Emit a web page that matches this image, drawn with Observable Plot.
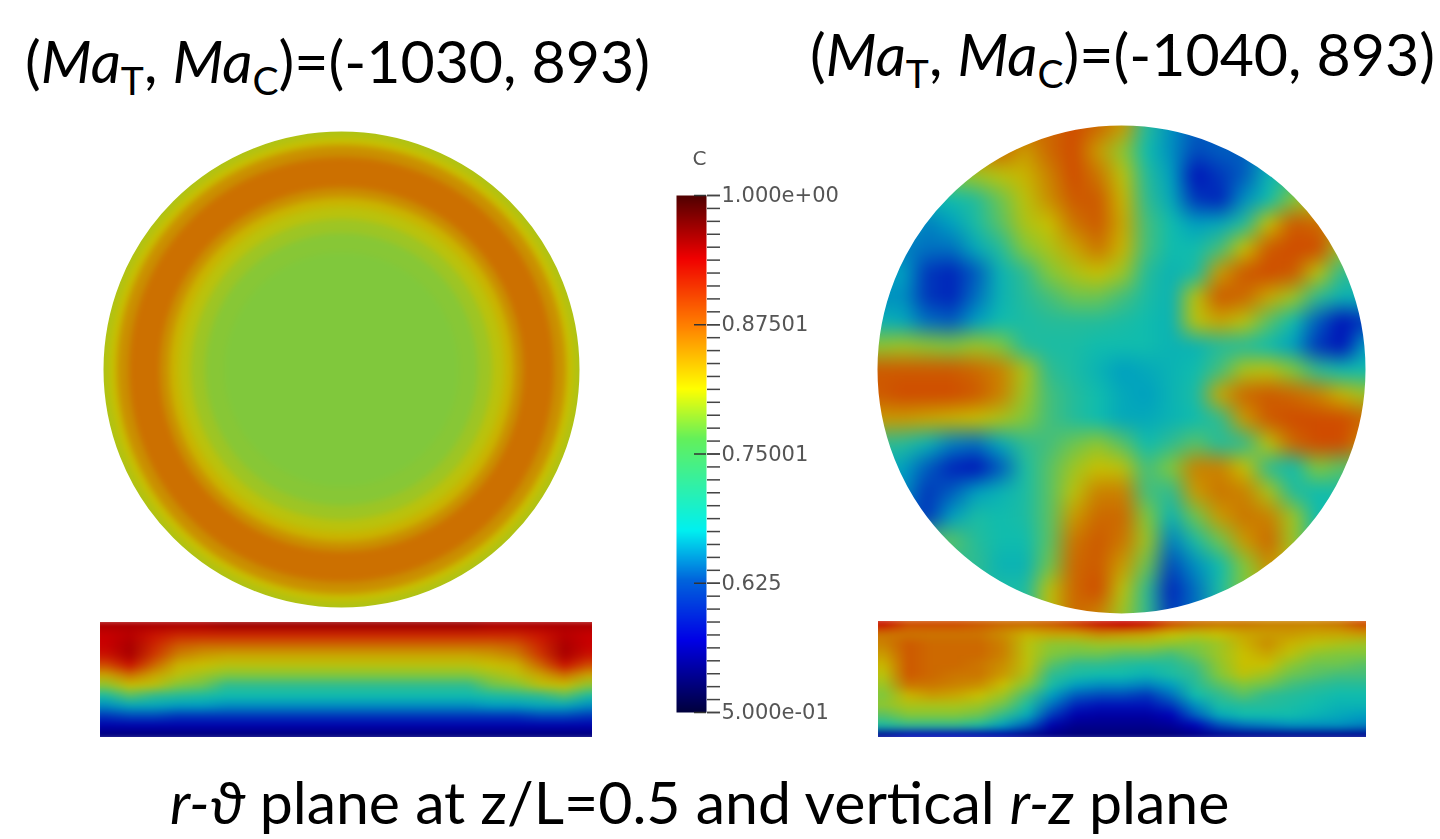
<!DOCTYPE html>
<html>
<head>
<meta charset="utf-8">
<script src="https://cdn.jsdelivr.net/npm/d3@7"></script>
<script src="https://cdn.jsdelivr.net/npm/@observablehq/plot@0.6"></script>
<style>
html,body{margin:0;padding:0;background:#fff;overflow:hidden}
#stage{position:relative;width:1440px;height:839px;overflow:hidden;font-family:Lato,"Open Sans",sans-serif;color:#000}
.t{position:absolute;white-space:nowrap;font-size:59px;line-height:60px}
.t sub{font-size:39px;line-height:0;vertical-align:-0.32em}
.p{position:absolute}
.p svg{display:block;background:transparent}
</style>
</head>
<body>
<div id="stage">
<div class="t" style="left:25px;top:31px">(<i>Ma</i><sub>T</sub>, <i>Ma</i><sub>C</sub>)=(-1030, 893)</div>
<div class="t" style="left:810px;top:24px">(<i>Ma</i><sub>T</sub>, <i>Ma</i><sub>C</sub>)=(-1040, 893)</div>
<div class="t" style="left:170px;top:772px"><i>r-ϑ</i> plane at z/L=0.5 and vertical <i>r-z</i> plane</div>
</div>
<script>
// concentration C, percent
const mapDomain = [50,57,63,66,69,72,76,81,87.5,90,94,100];
const mapColors = ["#00006e","#0000b8","#0070c0","#00a0c0","#10bcae","#30bc90","#80c83c","#c8c000","#cc7000","#d04c00","#c80000","#700000"];
const barDomain = [.5,.57,.628,.676,.765,.813,.874,.939,1];
const barColors = ["#00003c","#0000e6","#0064dc","#00f0f0","#64f05a","#ffff00","#ff8000","#f00000","#500000"];

// left disc: radial profile (r/R, C %)
const leftRho = [1.08,1.04,1.00,.97,.94,.89,.85,.80,.76,.72,.68,.63,.57,.49,.40,.28,.14];
const leftC   = [78,79,79.5,81,85,87.5,87.5,87.5,85,82,80,78,76.5,76,76,76,76];

// right disc: C % on a 21x21 grid, top row first
const rightDisc = [
[84,84,84,84,84,86,88,88,90,88,84,71,65,62,62,62,64,66,68,68,68],
[84,84,84,85,86,88,84,88,90,84,77,69,65,61,62,62,66,68,70,70,70],
[80,80,78,76,78,80,82,86,90,87,80,71,66,58,60,62,68,72,74,74,74],
[68,68,68,69,71,75,80,85,89,89,82,72,67,60,59,65,69,76,80,80,80],
[66,66,64,66,70,74,79,81,87,89,83,73,69,66,67,71,81,89,88,85,85],
[64,64,63,63,67,71,76,79,83,87,82,73,69,69,73,81,89,90,90,78,76],
[66,66,60,59,62,68,72,76,79,81,78,71,68,70,84,89,90,89,80,72,72],
[65,65,60,59,63,68,71,73,75,75,73,70,68,80,89,88,83,78,72,68,68],
[68,67,63,62,66,69,70,71,71,71,70,69,68,80,83,80,74,69,62,58,60],
[77,78,77,76,78,76,71,70,70,69,69,69,68,68,71,71,69,66,60,58,66],
[89,89,89,89,88,86,79,72,70,68,66,67,68,69,73,79,80,76,72,69,69],
[89,90,90,90,89,86,78,73,71,69,67,66,68,70,83,88,89,88,86,82,78],
[84,84,83,82,81,79,76,73,71,69,67,67,68,69,72,84,89,90,90,90,88],
[72,71,68,64,63,67,72,73,75,77,74,69,72,74,71,72,80,88,90,90,85],
[68,66,62,59,58,62,70,74,78,81,80,73,76,86,86,81,72,69,76,74,74],
[66,65,60,62,66,68,70,74,80,86,86,73,72,84,87,86,79,71,69,70,70],
[62,62,60,66,70,69,70,74,84,88,88,76,68,75,84,87,86,78,69,69,69],
[74,74,74,74,71,69,69,74,87,89,87,78,64,70,75,84,88,78,70,70,70],
[72,72,72,72,72,68,68,75,88,89,84,75,61,65,69,76,85,80,70,70,70],
[70,70,70,70,70,70,70,80,88,90,80,72,59,63,70,76,80,80,70,70,70],
[70,70,70,70,70,70,70,80,88,86,78,72,60,63,70,76,80,80,70,70,70]
];

// left r-z plane: 12 rows x 21 columns
const leftSlice = [
[96,96,96,96,96,97,97,97,97,97,97,97,97,97,97,97,96,96,96,96,96],
[94,95,93,92,92,92,92,92,92,92,92,92,92,92,92,92,92,92,93,95,94],
[94,96,92,89,88,88,88,88,88,88,88,88,88,88,88,88,88,89,92,96,94],
[93,96,91,86,84,83,83,83,83,83,83,83,83,83,83,83,84,86,91,96,93],
[90,93,88,82,81,80,80,80,80,80,80,80,80,80,80,80,81,82,88,93,90],
[83,87,83,80,78,76,76,76,76,76,76,76,76,76,76,76,78,80,83,87,83],
[77,81,80,76,75,72,72,72,72,72,72,72,72,72,72,72,75,76,80,81,77],
[70,74,72,71,70,69,69,69,69,69,69,69,69,69,69,69,70,71,72,74,70],
[65,67,67,66,66,65,65,65,65,65,65,65,65,65,65,65,66,66,67,67,65],
[60,61,61,60,60,60,60,60,60,60,60,60,60,60,60,60,60,60,61,61,60],
[56,56,56,56,56,56,56,56,56,56,56,56,56,56,56,56,56,56,56,56,56],
[51,51,51,51,51,51,51,51,51,51,51,51,51,51,51,51,51,51,51,51,51]
];

// right r-z plane: 12 rows x 21 columns
const rightSlice = [
[93,90,90,90,89,88,88,89,91,93,94,93,90,88,87,87,86,86,86,87,90],
[87,87,87,87,87,85,82,83,83,85,84,83,81,80,81,83,84,84,83,83,84],
[86,89,88,88,88,86,80,77,77,78,78,78,77,76,78,82,85,82,80,79,78],
[84,89,88,88,88,86,80,76,75,75,74,74,73,75,78,81,83,80,77,76,76],
[82,89,88,88,87,85,80,74,72,72,71,70,71,73,77,81,81,77,75,75,74],
[80,89,88,87,87,84,79,72,70,69,69,68,70,72,76,80,78,75,74,73,73],
[78,87,87,86,85,81,76,70,66,65,65,64,66,71,74,76,75,73,72,71,71],
[76,82,84,83,81,78,73,66,62,61,61,60,63,69,72,74,72,71,70,69,69],
[77,79,79,79,78,75,70,63,59,58,58,58,60,65,70,71,71,70,69,68,68],
[74,76,76,76,75,72,67,60,56,55,55,55,57,62,67,69,69,69,68,67,66],
[70,72,72,72,70,66,62,56,53,53,53,53,54,57,61,63,64,65,65,65,64],
[54,57,57,57,56,55,53,52,51,51,51,51,51,52,53,53,53,53,53,53,53]
];

// colour bar
const barMajor = [1,.875,.75,.625,.5];
const barLabels = ["1.000e+00","0.87501","0.75001","0.625","5.000e-01"];
const barMinor = [1,.9875,.975,.9625,.95,.9375,.925,.9125,.9,.8875,.875,.8625,.85,.8375,.825,.8125,.8,.7875,.775,.7625,.75,.7375,.725,.7125,.7,.6875,.675,.6625,.65,.6375,.625,.6125,.6,.5875,.575,.5625,.55,.5375,.525,.5125,.5];

const stage = document.getElementById("stage");
function place(el, left, top, extra){
  const w = document.createElement("div");
  w.className = "p";
  w.style.left = left + "px";
  w.style.top = top + "px";
  if (extra) w.style.filter = extra;
  w.appendChild(el);
  stage.appendChild(w);
}
const mapColor = {type:"linear", domain: mapDomain, range: mapColors, interpolate:"rgb", clamp:true};

function maskDot(R, W){
  return Plot.dot([0], {frameAnchor:"middle", r: R + W/2, fill:"none", stroke:"white", strokeWidth:W});
}

// left disc
const leftProfile = leftRho.map((rho,i)=>({rho, c:leftC[i]}));
place(Plot.plot({
  width:520, height:520, margin:0, axis:null,
  x:{axis:null}, y:{axis:null},
  r:{type:"linear", domain:[0,1], range:[0,238]},
  color: mapColor,
  marks:[
    Plot.dot(leftProfile, {frameAnchor:"middle", r:"rho", fill:"c", stroke:"c", imageFilter:"blur(3px)"}),
    maskDot(238, 130)
  ]
}), 81, 109);

// right disc
place(Plot.plot({
  width:512, height:512, margin:0,
  x:{domain:[0,21], axis:null}, y:{domain:[21,0], axis:null},
  color: mapColor,
  marks:[
    Plot.raster(rightDisc.flat(), {width:21, height:21, fill:d=>d, imageFilter:"blur(6px)"}),
    maskDot(244, 130)
  ]
}), 865, 113);

// r-z planes
function slice(rows, w, h, left, top){
  const nx = rows[0].length, ny = rows.length;
  place(Plot.plot({
    width:w, height:h, margin:0,
    x:{domain:[.3,nx-.3], axis:null}, y:{domain:[ny-.3,.3], axis:null},
    color: mapColor,
    marks:[Plot.raster(rows.flat(), {width:nx, height:ny, fill:d=>d, clip:true, imageFilter:"blur(3px)"})]
  }), left, top);
}
slice(leftSlice, 492, 115, 100, 622);
slice(rightSlice, 488, 116, 878, 621);

// colour bar
const labelOf = new Map(barMajor.map((v,i)=>[v,barLabels[i]]));
place(Plot.plot({
  width:185, height:590, marginLeft:11, marginRight:144, marginTop:50, marginBottom:23,
  style:{fontFamily:"DejaVu Sans", background:"transparent", overflow:"visible"},
  x:{domain:[0,1], axis:null},
  y:{domain:[.5,1], axis:null},
  color:{type:"linear", domain:barDomain, range:barColors, interpolate:"rgb"},
  marks:[
    Plot.raster({x1:0, x2:1, y1:.5, y2:1, pixelSize:1, fill:(x,y)=>y}),
    Plot.ruleY(barMajor, {x1:.6, x2:1, stroke:"#333", strokeWidth:1.5}),
    Plot.axisY({anchor:"right", ticks:barMinor, tickSize:13, tickFormat:()=>"", stroke:"#444", strokeWidth:1.5, label:null}),
    Plot.axisY({anchor:"right", ticks:barMajor, tickSize:13, tickPadding:2, tickFormat:d=>labelOf.get(d), fontSize:21, fill:"#555", stroke:"#444", strokeWidth:1.5, label:null}),
    Plot.text(["C"], {frameAnchor:"top-left", dx:16, dy:-45, fontSize:20, fill:"#555"})
  ]
}), 665, 145, "blur(0.5px)");
</script>
</body>
</html>
